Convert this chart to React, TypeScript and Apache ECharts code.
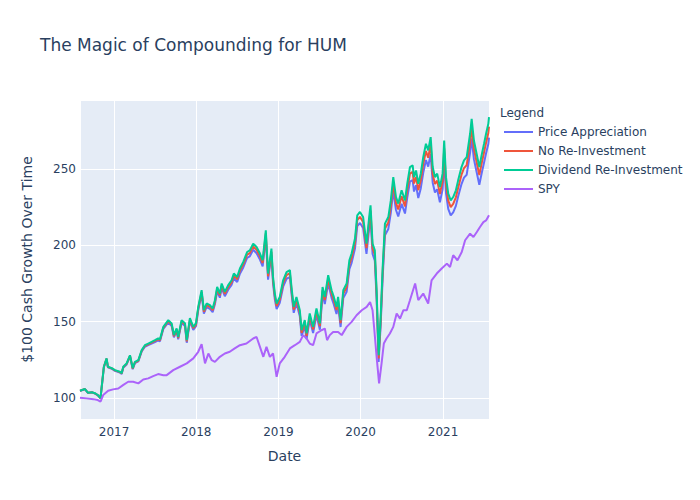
import React, { useEffect, useRef } from "react";
import * as echarts from "echarts";

const humDates = [
  "2016-08-03","2016-08-25","2016-09-07","2016-09-25","2016-10-08","2016-10-21","2016-11-02","2016-11-17","2016-11-29","2016-12-05",
  "2016-12-22","2017-01-05","2017-01-27","2017-02-04","2017-02-11","2017-02-26","2017-03-13","2017-03-25","2017-04-04","2017-04-19",
  "2017-05-04","2017-05-18","2017-06-02","2017-06-17","2017-07-02","2017-07-16","2017-07-24","2017-08-08","2017-08-30","2017-09-14",
  "2017-09-24","2017-10-06","2017-10-13","2017-10-28","2017-11-12","2017-11-20","2017-12-04","2017-12-19","2017-12-31","2018-01-10",
  "2018-01-25","2018-02-04","2018-02-16","2018-03-03","2018-03-15","2018-03-25","2018-04-04","2018-04-16","2018-04-24","2018-05-08",
  "2018-05-23","2018-06-07","2018-06-17","2018-07-02","2018-07-14","2018-07-29","2018-08-15","2018-08-27","2018-09-11","2018-09-26",
  "2018-10-11","2018-10-23","2018-11-06","2018-11-16","2018-12-01","2018-12-08","2018-12-16","2018-12-24","2019-01-07","2019-01-22",
  "2019-02-06","2019-02-21","2019-02-28","2019-03-10","2019-03-22","2019-04-06","2019-04-14","2019-04-28","2019-05-06","2019-05-20",
  "2019-06-04","2019-06-19","2019-07-04","2019-07-16","2019-07-26","2019-08-10","2019-08-25","2019-09-04","2019-09-16","2019-09-23",
  "2019-10-04","2019-10-16","2019-10-31","2019-11-12","2019-11-22","2019-12-07","2019-12-17","2019-12-29","2020-01-12","2020-01-27",
  "2020-02-08","2020-02-14","2020-02-23","2020-03-04","2020-03-12","2020-03-21","2020-03-30","2020-04-08","2020-04-18","2020-05-03",
  "2020-05-14","2020-05-25","2020-06-06","2020-06-16","2020-07-01","2020-07-16","2020-07-26","2020-08-07","2020-08-19","2020-08-25",
  "2020-09-03","2020-09-13","2020-09-24","2020-10-05","2020-10-17","2020-10-27","2020-11-07","2020-11-16","2020-11-26","2020-12-06",
  "2020-12-18","2020-12-30","2021-01-06","2021-01-14","2021-01-24","2021-02-04","2021-02-15","2021-02-27","2021-03-09","2021-03-24",
  "2021-04-04","2021-04-16","2021-05-01","2021-05-08","2021-05-18","2021-05-30","2021-06-11","2021-06-21","2021-07-02","2021-07-11",
  "2021-07-21","2021-07-24",
];

const dividendReinvestment = [
  104.8,105.9,103.5,103.8,103.2,102.0,100.0,120.5,126.0,120.5,
  119.6,118.3,117.2,116.3,120.5,122.7,128.0,119.6,123.7,124.8,
  131.4,134.6,135.7,136.8,137.9,139.0,138.5,146.6,151.0,148.8,
  141.2,145.6,140.0,151.0,149.0,137.9,152.3,146.6,149.0,159.7,
  170.6,157.5,161.9,160.8,158.6,164.0,172.7,168.4,175.0,169.5,
  173.9,177.1,181.5,179.3,184.8,189.1,195.6,196.7,201.1,198.9,
  194.6,190.2,209.8,181.5,197.8,179.3,168.4,161.9,166.2,177.1,
  182.5,183.7,172.7,159.7,166.2,157.5,144.4,151.0,142.3,155.4,
  146.6,158.6,148.8,172.7,166.2,180.4,170.6,166.2,159.7,166.2,
  151.0,170.6,175.0,190.2,194.6,204.4,219.6,221.8,218.5,201.1,
  218.5,226.1,201.1,196.7,170.6,128.0,153.1,185.8,214.2,218.5,
  229.4,244.6,231.6,227.3,236.0,229.4,240.3,251.2,252.3,244.6,
  249.0,240.3,246.9,257.7,266.5,262.1,270.8,251.2,244.6,246.9,
  238.1,246.9,268.6,244.6,233.8,229.4,231.6,236.0,242.5,251.2,
  255.6,257.7,273.0,282.8,268.6,259.9,251.2,258.8,266.5,273.0,
  279.5,283.9,
];

const noReinvestment = [
  104.8,105.9,103.5,103.8,103.1,101.9,99.9,120.4,125.8,120.3,
  119.4,118.1,117.0,116.1,120.2,122.4,127.7,119.3,123.4,124.4,
  131.0,134.1,135.2,136.3,137.4,138.4,137.9,146.0,150.3,148.1,
  140.5,144.9,139.3,150.2,148.2,137.1,151.4,145.7,148.1,158.7,
  169.5,156.5,160.8,159.7,157.5,162.8,171.5,167.2,173.7,168.2,
  172.6,175.7,180.0,177.8,183.3,187.5,193.9,194.9,199.3,197.1,
  192.8,188.4,207.8,179.7,195.8,177.5,166.7,160.2,164.5,175.2,
  180.5,181.7,170.8,157.9,164.3,155.7,142.7,149.2,140.6,153.5,
  144.8,156.6,147.0,170.5,164.1,178.1,168.4,164.1,157.6,164.0,
  149.0,168.3,172.6,187.5,191.9,201.5,216.4,218.6,215.3,198.1,
  215.2,222.7,198.0,193.7,168.0,126.0,150.7,182.9,210.8,215.0,
  225.7,240.6,227.8,223.5,232.1,225.5,236.2,246.9,248.0,240.4,
  244.7,236.1,242.5,253.1,261.7,257.3,265.9,246.6,240.1,242.3,
  233.6,242.2,263.5,239.9,229.3,225.0,227.1,231.4,237.7,246.2,
  250.5,252.5,267.5,277.2,263.3,254.5,246.0,253.4,260.9,267.1,
  273.5,277.7,
];

const priceAppreciation = [
  104.7,105.8,103.4,103.7,103.0,101.8,99.8,120.2,125.6,120.1,
  119.2,117.8,116.7,115.8,119.9,122.0,127.3,118.9,122.9,124.0,
  130.5,133.6,134.6,135.7,136.7,137.7,137.2,145.2,149.5,147.2,
  139.7,144.0,138.4,149.2,147.2,136.2,150.4,144.7,147.0,157.5,
  168.2,155.2,159.5,158.4,156.2,161.4,169.9,165.7,172.1,166.7,
  170.9,174.0,178.3,176.0,181.4,185.5,191.8,192.8,197.1,194.8,
  190.6,186.2,205.3,177.5,193.4,175.3,164.6,158.2,162.4,172.9,
  178.1,179.2,168.5,155.8,162.0,153.5,140.7,147.1,138.6,151.3,
  142.6,154.3,144.7,167.9,161.5,175.2,165.6,161.3,155.0,161.2,
  146.5,165.4,169.6,184.3,188.5,197.9,212.6,214.6,211.4,194.4,
  211.2,218.5,194.3,190.0,164.7,123.6,147.8,179.3,206.6,210.7,
  221.2,235.7,223.1,218.9,227.2,220.8,231.2,241.6,242.6,235.2,
  239.3,230.9,237.2,247.5,255.8,251.5,259.8,241.0,234.6,236.7,
  228.2,236.6,257.3,234.3,223.8,219.6,221.6,225.8,231.9,240.1,
  244.3,246.2,260.7,270.0,256.4,248.0,239.6,246.8,254.1,260.2,
  266.3,270.5,
];

const spyDates = [
  "2016-08-03","2016-09-01","2016-10-01","2016-10-21","2016-11-02","2016-11-14","2016-12-06","2016-12-28","2017-01-20","2017-02-10",
  "2017-03-05","2017-03-27","2017-04-19","2017-05-11","2017-06-02","2017-06-24","2017-07-16","2017-08-08","2017-08-23","2017-09-21",
  "2017-10-21","2017-11-20","2017-12-19","2018-01-10","2018-01-25","2018-02-09","2018-02-24","2018-03-11","2018-03-25","2018-04-16",
  "2018-05-08","2018-05-30","2018-06-21","2018-07-14","2018-08-12","2018-09-11","2018-09-26","2018-10-11","2018-10-26","2018-11-09",
  "2018-11-24","2018-12-08","2018-12-24","2019-01-07","2019-01-29","2019-02-21","2019-03-15","2019-04-06","2019-04-21","2019-05-06",
  "2019-05-20","2019-06-04","2019-06-19","2019-07-11","2019-07-26","2019-08-05","2019-08-17","2019-09-01","2019-09-23","2019-10-09",
  "2019-10-31","2019-11-22","2019-12-14","2020-01-06","2020-01-28","2020-02-12","2020-02-23","2020-03-02","2020-03-12","2020-03-23",
  "2020-04-03","2020-04-13","2020-04-25","2020-05-10","2020-05-25","2020-06-09","2020-06-24","2020-07-09","2020-07-24","2020-08-07",
  "2020-08-30","2020-09-13","2020-10-05","2020-10-27","2020-11-11","2020-12-04","2020-12-26","2021-01-18","2021-02-01","2021-02-15",
  "2021-03-06","2021-03-25","2021-04-09","2021-05-01","2021-05-16","2021-05-31","2021-06-14","2021-06-29","2021-07-11","2021-07-24",
];

const spy = [
  100.2,99.8,99.3,98.7,97.6,102.0,104.8,105.7,106.3,108.5,
  110.7,110.7,109.6,112.2,112.9,114.4,115.7,115.0,115.0,118.3,
  120.5,122.7,126.0,130.3,135.3,122.7,129.2,124.8,123.7,127.0,
  129.2,130.3,132.5,134.6,135.7,139.0,140.0,133.5,127.0,133.5,
  127.0,129.2,113.9,122.7,127.0,132.5,134.6,136.8,141.2,139.0,
  135.7,134.6,142.3,144.4,145.5,137.9,141.2,143.3,143.3,141.2,
  146.6,149.9,154.2,157.5,159.7,162.9,157.5,144.4,127.0,109.6,
  122.7,135.7,139.0,142.3,146.6,155.4,152.0,157.5,157.5,164.0,
  175.0,164.1,168.4,161.9,177.1,181.5,184.8,188.0,185.8,193.5,
  190.2,195.6,203.3,207.6,205.4,208.7,212.0,215.2,216.3,219.6,
];

const seriesNames = ["Price Appreciation", "No Re-Investment", "Dividend Re-Investment", "SPY"];
const seriesColors = ["#636efa", "#EF553B", "#00cc96", "#ab63fa"];
const yTicks = [100, 150, 200, 250];

const FONT = "DejaVu Sans";
const TXT = "#2a3f5f";

function pairs(dates: string[], vals: number[]) {
  return dates.map((d, i) => [d, vals[i]]);
}

export default function App() {
  const ref = useRef<HTMLDivElement>(null);
  useEffect(() => {
    if (!ref.current) return;
    const chart = echarts.init(ref.current, undefined, { renderer: "svg" });
    const datasets = [
      pairs(humDates, priceAppreciation),
      pairs(humDates, noReinvestment),
      pairs(humDates, dividendReinvestment),
      pairs(spyDates, spy),
    ];
    const YEAR = 365.25 * 24 * 3600 * 1000;
    chart.setOption({
      animation: false,
      backgroundColor: "#ffffff",
      textStyle: { fontFamily: FONT, color: TXT },
      title: [
        {
          text: "The Magic of Compounding for HUM",
          left: 35,
          top: 31,
          textStyle: { fontFamily: FONT, fontSize: 17, fontWeight: "normal", color: TXT },
        },
        {
          text: "Legend",
          left: 500,
          top: 107,
          padding: 0,
          textStyle: { fontFamily: FONT, fontSize: 12, fontWeight: "normal", color: TXT },
        },
      ],
      legend: {
        orient: "vertical",
        left: 504,
        top: 125,
        padding: 0,
        itemGap: 5,
        itemWidth: 29,
        itemHeight: 2,
        icon: "rect",
        data: seriesNames,
        textStyle: { fontFamily: FONT, fontSize: 12, color: TXT, lineHeight: 14 },
      },
      grid: { left: 80, right: 211, top: 100, bottom: 81, containLabel: false, backgroundColor: "#E5ECF6", show: true, borderWidth: 0 },
      xAxis: {
        type: "time",
        min: "2016-08-03",
        max: "2021-07-24",
        minInterval: YEAR,
        maxInterval: YEAR,
        name: "Date",
        nameLocation: "middle",
        nameGap: 30,
        nameTextStyle: { fontFamily: FONT, fontSize: 14, color: TXT },
        axisLine: { show: false },
        axisTick: { show: false },
        axisLabel: {
          fontFamily: FONT,
          fontSize: 12,
          color: TXT,
          margin: 7,
          showMinLabel: false,
          showMaxLabel: false,
          formatter: (v: number) => {
            const d = new Date(v);
            return d.getMonth() === 0 && d.getDate() === 1 ? String(d.getFullYear()) : "";
          },
        },
        splitLine: { show: true, lineStyle: { color: "#ffffff", width: 1 } },
      },
      yAxis: {
        type: "value",
        min: 86.3,
        max: 295.1,
        name: "$100 Cash Growth Over Time",
        nameLocation: "middle",
        nameGap: 46,
        nameTextStyle: { fontFamily: FONT, fontSize: 14, color: TXT },
        axisLine: { show: false },
        axisTick: { show: false },
        axisLabel: {
          fontFamily: FONT,
          fontSize: 12,
          color: TXT,
          margin: 4,
          formatter: (v: number) => (yTicks.includes(Math.round(v * 1000) / 1000) ? String(v) : ""),
        },
        splitLine: { show: true, lineStyle: { color: "#ffffff", width: 1 } },
      },
      series: datasets.map((data, i) => ({
        name: seriesNames[i],
        type: "line",
        data,
        showSymbol: false,
        symbol: "none",
        lineStyle: { color: seriesColors[i], width: 2 },
        itemStyle: { color: seriesColors[i] },
        z: 2 + i,
      })),
    });
    return () => chart.dispose();
  }, []);
  return <div ref={ref} style={{ position: "absolute", left: 0, top: 0, width: 700, height: 500 }} />;
}
